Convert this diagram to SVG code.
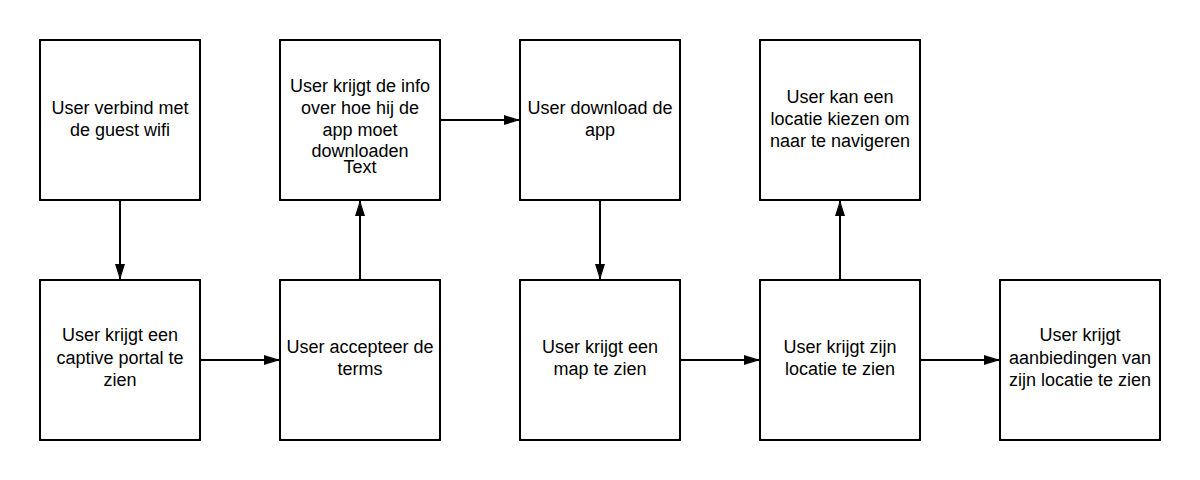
<svg xmlns="http://www.w3.org/2000/svg" width="1200" height="480" viewBox="0 0 1200 480">
<defs>
<style>
.box{fill:#ffffff;stroke:#000000;stroke-width:2}
.lbl{font-family:"Liberation Sans",Arial,sans-serif;font-size:18px;fill:#000000;text-anchor:middle}
.edge{stroke:#000000;stroke-width:2;fill:none}
</style>
<marker id="arr" viewBox="0 0 16 10" refX="16" refY="5" markerWidth="16" markerHeight="10" markerUnits="userSpaceOnUse" orient="auto">
<path d="M0,0 L16,5 L0,10 Z" fill="#000000"/>
</marker>
</defs>
<rect width="1200" height="480" fill="#ffffff"/>
<g id="connectors">
<path class="edge" d="M120,200 L120,280" marker-end="url(#arr)"/>
<path class="edge" d="M200,360 L280,360" marker-end="url(#arr)"/>
<path class="edge" d="M360,280 L360,200" marker-end="url(#arr)"/>
<path class="edge" d="M440,120 L520,120" marker-end="url(#arr)"/>
<path class="edge" d="M600,200 L600,280" marker-end="url(#arr)"/>
<path class="edge" d="M680,360 L760,360" marker-end="url(#arr)"/>
<path class="edge" d="M840,280 L840,200" marker-end="url(#arr)"/>
<path class="edge" d="M920,360 L1000,360" marker-end="url(#arr)"/>
</g>
<g id="n1">
<rect class="box" x="40" y="40" width="160" height="160"/>
<text class="lbl" x="120" y="114">User verbind met</text>
<text class="lbl" x="120" y="136">de guest wifi</text>
</g>
<g id="n2">
<rect class="box" x="40" y="280" width="160" height="160"/>
<text class="lbl" x="120" y="341">User krijgt een</text>
<text class="lbl" x="120" y="363.5">captive portal te</text>
<text class="lbl" x="120" y="386">zien</text>
</g>
<g id="n3">
<rect class="box" x="280" y="280" width="160" height="160"/>
<text class="lbl" x="360" y="353">User accepteer de</text>
<text class="lbl" x="360" y="375">terms</text>
</g>
<g id="n4">
<rect class="box" x="280" y="40" width="160" height="160"/>
<text class="lbl" x="360" y="92">User krijgt de info</text>
<text class="lbl" x="360" y="114">over hoe hij de</text>
<text class="lbl" x="360" y="136">app moet</text>
<text class="lbl" x="360" y="157">downloaden</text>
<text class="lbl" x="360" y="173">Text</text>
</g>
<g id="n5">
<rect class="box" x="520" y="40" width="160" height="160"/>
<text class="lbl" x="600" y="114">User download de</text>
<text class="lbl" x="600" y="136">app</text>
</g>
<g id="n6">
<rect class="box" x="520" y="280" width="160" height="160"/>
<text class="lbl" x="600" y="353">User krijgt een</text>
<text class="lbl" x="600" y="375">map te zien</text>
</g>
<g id="n7">
<rect class="box" x="760" y="280" width="160" height="160"/>
<text class="lbl" x="840" y="353">User krijgt zijn</text>
<text class="lbl" x="840" y="375">locatie te zien</text>
</g>
<g id="n8">
<rect class="box" x="760" y="40" width="160" height="160"/>
<text class="lbl" x="840" y="103">User kan een</text>
<text class="lbl" x="840" y="125">locatie kiezen om</text>
<text class="lbl" x="840" y="147">naar te navigeren</text>
</g>
<g id="n9">
<rect class="box" x="1000" y="280" width="160" height="160"/>
<text class="lbl" x="1080" y="341">User krijgt</text>
<text class="lbl" x="1080" y="363.5">aanbiedingen van</text>
<text class="lbl" x="1080" y="386">zijn locatie te zien</text>
</g>
</svg>
